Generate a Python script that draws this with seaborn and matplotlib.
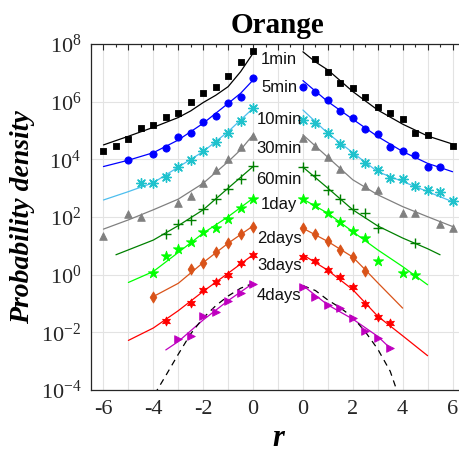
import numpy as np
import pandas as pd
import seaborn as sns
import matplotlib
matplotlib.use("Agg")
import matplotlib.pyplot as plt
from matplotlib.ticker import MultipleLocator, FixedLocator, FuncFormatter

# ---------------- data (log10 of probability density) ----------------
series = ['1min', '5min', '10min', '30min', '60min', '1day', '2days', '3days', '4days']

# markers, left branch (r <= 0) and right branch (r >= 0)
m1_Lr = [-6, -5.5, -5, -4.5, -4, -3.5, -3, -2.5, -2, -1.5, -1, -0.5, 0]
m1_Lp = [4.30, 4.46, 4.72, 5.07, 5.18, 5.46, 5.60, 6.00, 6.29, 6.50, 6.90, 7.37, 7.77]
m1_Rr = [0.5, 1, 1.5, 2, 2.5, 3, 3.5, 4, 4.5, 5, 6]
m1_Rp = [7.48, 7.04, 6.66, 6.46, 6.17, 5.81, 5.60, 5.39, 4.90, 4.84, 4.47]
f1_Lr = [-6, -5, -4, -3, -2.5, -2, -1.5, -1, -0.5, 0]
f1_Lp = [4.50, 4.80, 5.11, 5.45, 5.68, 5.97, 6.22, 6.52, 7.04, 7.68]
f1_Rr = [0, 0.5, 1, 2, 3, 4, 5, 6]
f1_Rp = [7.73, 7.38, 7.10, 6.35, 5.71, 5.22, 4.81, 4.53]

m5_Lr = [-5, -4, -3.5, -3, -2.5, -2, -1.5, -1, -0.5, 0]
m5_Lp = [3.96, 4.19, 4.40, 4.77, 4.93, 5.31, 5.51, 5.97, 6.17, 6.82]
m5_Rr = [0, 0.5, 1, 1.5, 2, 2.5, 3, 3.5, 4, 4.5, 5, 5.5]
m5_Rp = [6.50, 6.33, 6.06, 5.69, 5.42, 5.05, 4.87, 4.42, 4.30, 4.14, 3.75, 3.75]
f5_Lr = [-6, -5, -4, -3, -2, -1, -0.5, 0]
f5_Lp = [3.75, 3.97, 4.23, 4.67, 5.25, 5.94, 6.29, 6.75]
f5_Rr = [0, 1, 2, 3, 4, 5, 6]
f5_Rp = [6.73, 6.00, 5.39, 4.79, 4.27, 3.86, 3.57]

m10_Lr = [-4.5, -4, -3.5, -3, -2.5, -2, -1.5, -1, -0.5, 0]
m10_Lp = [3.17, 3.17, 3.38, 3.75, 3.98, 4.29, 4.61, 4.93, 5.34, 5.77]
m10_Rr = [0, 0.5, 1, 1.5, 2, 2.5, 3, 3.5, 4, 4.5, 5, 5.5, 6]
m10_Rp = [5.37, 5.25, 4.93, 4.53, 4.19, 3.88, 3.63, 3.34, 3.31, 3.08, 2.94, 2.88, 2.57]
f10_Lr = [-6, -5, -4, -3, -2, -1, 0]
f10_Lp = [2.59, 2.88, 3.19, 3.73, 4.27, 4.96, 5.77]
f10_Rr = [0, 1, 2, 3, 4, 5, 6]
f10_Rp = [5.71, 4.90, 4.23, 3.57, 3.23, 2.88, 2.53]

m30_Lr = [-6, -5, -4.5, -3, -2.5, -2, -1.5, -1, -0.5, 0]
m30_Lp = [1.34, 2.11, 1.99, 2.50, 2.74, 3.19, 3.64, 4.00, 4.42, 4.81]
m30_Rr = [0, 0.5, 1, 1.5, 2.5, 3, 4, 4.5, 5.5, 6]
m30_Rp = [4.73, 4.46, 4.09, 3.65, 3.08, 2.92, 2.15, 2.15, 1.76, 1.61]
f30_Lr = [-6, -5, -4, -3, -2, -1, -0.5, 0]
f30_Lp = [1.58, 1.90, 2.25, 2.62, 3.17, 3.92, 4.33, 4.85]
f30_Rr = [0, 1, 2, 3, 4, 5, 6]
f30_Rp = [4.85, 4.07, 3.29, 2.77, 2.36, 2.01, 1.67]

m60_Lr = [-3.5, -3, -2.5, -2, -1.5, -1, -0.5, 0]
m60_Lp = [1.41, 1.76, 1.90, 2.27, 2.62, 2.96, 3.31, 3.77]
m60_Rr = [0, 0.5, 1, 1.5, 2, 2.5, 3, 4.5]
m60_Rp = [3.73, 3.46, 2.92, 2.62, 2.27, 2.13, 1.61, 1.11]
f60_Lr = [-5.5, -5, -4, -3, -2, -1, 0]
f60_Lp = [0.69, 0.86, 1.20, 1.70, 2.25, 3.00, 3.75]
f60_Rr = [0, 1, 2, 3, 4, 5, 5.5]
f60_Rp = [3.73, 3.00, 2.25, 1.69, 1.27, 0.90, 0.69]

m1d_Lr = [-4, -3.5, -3, -2.5, -2, -1.5, -1, -0.5, 0]
m1d_Lp = [0.07, 0.65, 0.88, 1.15, 1.49, 1.61, 1.92, 2.30, 2.62]
m1d_Rr = [0, 0.5, 1, 1.5, 2, 2.5, 3, 4, 4.5]
m1d_Rp = [2.62, 2.42, 2.15, 1.84, 1.53, 1.27, 0.46, 0.07, -0.01]
f1d_Lr = [-5, -4, -3, -2, -1, 0]
f1d_Lp = [-0.27, 0.11, 0.77, 1.44, 2.01, 2.65]
f1d_Rr = [0, 1, 2, 3, 4, 5]
f1d_Rp = [2.62, 2.13, 1.49, 0.86, 0.28, -0.35]

m2d_Lr = [-4, -2.5, -2, -1.5, -1, -0.5, 0]
m2d_Lp = [-0.76, 0.18, 0.40, 0.77, 1.11, 1.41, 1.67]
m2d_Rr = [0, 0.5, 1, 1.5, 2, 2.5]
m2d_Rp = [1.61, 1.41, 1.18, 0.86, 0.61, 0.11]
f2d_Lr = [-4, -3, -2, -1, 0]
f2d_Lp = [-0.76, -0.30, 0.42, 1.09, 1.69]
f2d_Rr = [0, 1, 2, 2.5, 3, 4]
f2d_Rp = [1.61, 1.15, 0.61, 0.17, -0.28, -1.16]

m3d_Lr = [-3.5, -2.5, -2, -1.5, -1, -0.5, 0]
m3d_Lp = [-1.62, -0.97, -0.53, -0.24, -0.01, 0.42, 0.69]
m3d_Rr = [0, 0.5, 1, 1.5, 2, 2.5, 3, 3.5]
m3d_Rp = [0.63, 0.46, 0.17, -0.09, -0.44, -1.01, -1.47, -1.68]
f3d_Lr = [-5, -4, -3, -2, -1, 0]
f3d_Lp = [-2.28, -1.85, -1.25, -0.58, 0.05, 0.69]
f3d_Rr = [0, 1, 2, 3, 4, 5]
f3d_Rp = [0.69, 0.15, -0.52, -1.44, -2.12, -2.81]

m4d_Lr = [-3, -2.5, -2, -1.5, -1, -0.5, 0]
m4d_Lp = [-2.24, -2.12, -1.43, -1.31, -0.90, -0.62, -0.32]
m4d_Rr = [0, 0.5, 1, 1.5, 2, 2.5, 3, 3.5]
m4d_Rp = [-0.43, -0.76, -1.05, -1.16, -1.51, -1.94, -2.20, -2.55]
f4d_Lr = [-3.5, -3, -2, -1, 0]
f4d_Lp = [-2.61, -2.32, -1.57, -0.90, -0.30]
f4d_Rr = [0, 1, 2, 3, 3.5]
f4d_Rp = [-0.38, -1.05, -1.54, -2.14, -2.55]

# Gaussian reference (dashed) for 4days
g_Lr = [-3.95, -3.5, -3, -2.5, -2, -1.5, -1, -0.5, 0]
g_Lp = [-4.15, -3.50, -2.76, -2.05, -1.50, -1.08, -0.74, -0.47, -0.30]
g_Rr = [0, 0.5, 1, 1.5, 2, 2.5, 3, 3.5, 3.8]
g_Rp = [-0.38, -0.55, -0.88, -1.15, -1.48, -1.98, -2.58, -3.35, -4.10]

# x tick labels and y tick exponents
xtick_labels = ['-6', '-4', '-2', '0', '0', '2', '4', '6']
ytick_exps = [-4, -2, 0, 2, 4, 6, 8]

pts = {
    '1min': (m1_Lr, m1_Lp, m1_Rr, m1_Rp, f1_Lr, f1_Lp, f1_Rr, f1_Rp),
    '5min': (m5_Lr, m5_Lp, m5_Rr, m5_Rp, f5_Lr, f5_Lp, f5_Rr, f5_Rp),
    '10min': (m10_Lr, m10_Lp, m10_Rr, m10_Rp, f10_Lr, f10_Lp, f10_Rr, f10_Rp),
    '30min': (m30_Lr, m30_Lp, m30_Rr, m30_Rp, f30_Lr, f30_Lp, f30_Rr, f30_Rp),
    '60min': (m60_Lr, m60_Lp, m60_Rr, m60_Rp, f60_Lr, f60_Lp, f60_Rr, f60_Rp),
    '1day': (m1d_Lr, m1d_Lp, m1d_Rr, m1d_Rp, f1d_Lr, f1d_Lp, f1d_Rr, f1d_Rp),
    '2days': (m2d_Lr, m2d_Lp, m2d_Rr, m2d_Rp, f2d_Lr, f2d_Lp, f2d_Rr, f2d_Rp),
    '3days': (m3d_Lr, m3d_Lp, m3d_Rr, m3d_Rp, f3d_Lr, f3d_Lp, f3d_Rr, f3d_Rp),
    '4days': (m4d_Lr, m4d_Lp, m4d_Rr, m4d_Rp, f4d_Lr, f4d_Lp, f4d_Rr, f4d_Rp),
}

# ---------------- build tables ----------------
GAP = 2.0  # right branch is drawn shifted by this amount on the shared axis


def to_rows(name, rl, pl, rr, pr):
    rows = []
    for r, p in zip(rl, pl):
        rows.append((name, 'L', r, r, 10.0 ** p))
    for r, p in zip(rr, pr):
        rows.append((name, 'R', r, r + GAP, 10.0 ** p))
    return rows


mk_rows, ln_rows = [], []
for name in series:
    a = pts[name]
    mk_rows += to_rows(name, a[0], a[1], a[2], a[3])
    ln_rows += to_rows(name, a[4], a[5], a[6], a[7])
cols = ['series', 'side', 'r', 'x', 'density']
mk = pd.DataFrame(mk_rows, columns=cols)
ln = pd.DataFrame(ln_rows, columns=cols)
gs = pd.DataFrame(to_rows('gauss', g_Lr, g_Lp, g_Rr, g_Rp), columns=cols)

# ---------------- style ----------------
sns.set_style("white")
plt.rcParams['font.family'] = ['Liberation Serif', 'DejaVu Serif']
plt.rcParams['mathtext.fontset'] = 'stix'
plt.rcParams['axes.unicode_minus'] = False

line_col = {'1min': 'black', '5min': '#0000ff', '10min': '#4dbeee', '30min': '#808080',
            '60min': '#008000', '1day': '#00ff00', '2days': '#d95319', '3days': '#ff0000',
            '4days': '#bf00bf'}
mark_col = dict(line_col)
mark_col['10min'] = '#1fc2cc'
markers = {'1min': 's', '5min': 'o', '10min': (8, 2, 0), '30min': '^', '60min': '+',
           '1day': '*', '2days': 'd', '3days': (6, 1, 0), '4days': '>'}
msize = {'1min': 20, '5min': 27, '10min': 48, '30min': 30, '60min': 55,
         '1day': 60, '2days': 32, '3days': 42, '4days': 30}
label_y_exp = [7.47, 6.49, 5.37, 4.36, 3.31, 2.42, 1.25, 0.33, -0.73]

W, H = 459, 453
fig = plt.figure(figsize=(W / 100, H / 100), dpi=100)
ax = fig.add_axes([91 / W, (H - 390) / H, (465 - 91) / W, 346 / H])
ax.set_yscale('log')

for name in series:
    for side in ['L', 'R']:
        d = ln[(ln.series == name) & (ln.side == side)]
        sns.lineplot(data=d, x='x', y='density', sort=False, estimator=None,
                     color=line_col[name], lw=0.9, ax=ax, legend=False)
    for side in ['L', 'R']:
        d = mk[(mk.series == name) & (mk.side == side)]
        m = markers[name]
        unfilled = m in ('+',) or (isinstance(m, tuple) and m[1] == 2)
        if unfilled:
            sns.scatterplot(data=d, x='x', y='density', marker=m, s=msize[name],
                            color=mark_col[name], linewidth=1.0, ax=ax, legend=False, zorder=3)
        else:
            sns.scatterplot(data=d, x='x', y='density', marker=m, s=msize[name],
                            color=mark_col[name], edgecolor=mark_col[name], linewidth=0.6,
                            ax=ax, legend=False, zorder=3)

for side in ['L', 'R']:
    d = gs[gs.side == side]
    sns.lineplot(data=d, x='x', y='density', sort=False, estimator=None, color='black',
                 lw=0.9, ax=ax, legend=False, linestyle=(0, (5, 4)))

for name, ye in zip(series, label_y_exp):
    ax.text(1.05, 10 ** ye, name, ha='center', va='center', fontsize=12,
            family=['Liberation Sans', 'DejaVu Sans'], color='#111111', zorder=5)

ax.set_xlim(-6.5, 8.5)
ax.set_ylim(1e-4, 1e8)

ax.xaxis.set_major_locator(MultipleLocator(1))
ax.xaxis.set_minor_locator(FixedLocator(np.arange(-6.5, 8.6, 1.0)))
tick_pos = [-6, -4, -2, 0, 2, 4, 6, 8]
lab_map = dict(zip(tick_pos, xtick_labels))
ax.xaxis.set_major_formatter(FuncFormatter(lambda v, p: lab_map.get(int(round(v)), '') if abs(v - round(v)) < 1e-6 else ''))
ax.yaxis.set_major_locator(FixedLocator([10.0 ** e for e in ytick_exps]))
ax.yaxis.set_minor_locator(FixedLocator([]))
ax.yaxis.set_major_formatter(FuncFormatter(lambda v, p: r'$\mathregular{10^{%d}}$' % int(round(np.log10(v)))))

ax.tick_params(axis='both', which='both', direction='in', top=True, right=True,
               colors='#262626', labelcolor='#262626', width=0.8)
ax.tick_params(axis='both', which='major', length=4, labelsize=16, pad=7)
ax.tick_params(axis='x', which='minor', length=2.5)
ax.grid(True, which='major', color='#e3e3e3', lw=0.8)
ax.set_axisbelow(True)
for sp in ax.spines.values():
    sp.set_color('#262626')
    sp.set_linewidth(0.9)

ax.set_xlabel('r', fontsize=22, fontweight='bold', fontstyle='italic', labelpad=4, color='black')
ax.set_ylabel('Probability density', fontsize=20, fontweight='bold', fontstyle='italic',
              labelpad=4, color='black')
ax.set_title('Orange', fontsize=21, fontweight='bold', pad=8, color='black')

fig.savefig('out.png', dpi=100)
